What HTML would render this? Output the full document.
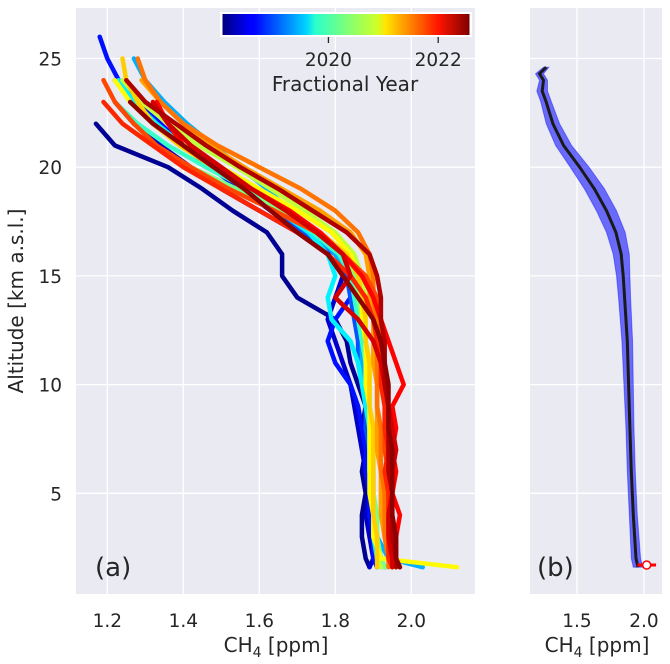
<!DOCTYPE html>
<html><head><meta charset="utf-8"><style>
body{margin:0;background:#fff;}
svg{display:block;font-family:"DejaVu Sans","Liberation Sans",sans-serif;}
</style></head><body>
<svg id="chart" width="670" height="664" viewBox="0 0 670 664">
<defs>
<linearGradient id="jet" x1="0" x2="1" y1="0" y2="0">
<stop offset="0" stop-color="#00007f"/><stop offset="0.11" stop-color="#0000ff"/><stop offset="0.125" stop-color="#0000ff"/>
<stop offset="0.34" stop-color="#00d4ff"/><stop offset="0.375" stop-color="#29ffce"/><stop offset="0.5" stop-color="#7dff7a"/>
<stop offset="0.625" stop-color="#ceff29"/><stop offset="0.66" stop-color="#ffe500"/><stop offset="0.875" stop-color="#ff1400"/>
<stop offset="1" stop-color="#7f0000"/></linearGradient>
<clipPath id="clipA"><rect x="76" y="8" width="399" height="586"/></clipPath>
<clipPath id="clipB"><rect x="530" y="8" width="132" height="586"/></clipPath>
</defs>
<rect x="76" y="8" width="399" height="586" fill="#eaeaf2"/>
<rect x="530" y="8" width="132" height="586" fill="#eaeaf2"/>
<g id="grid"></g>
<g id="seriesA" clip-path="url(#clipA)"></g>
<g id="seriesB" clip-path="url(#clipB)"></g>
<g id="labels" fill="#262626"></g>
<text x="95" y="576" font-size="26" fill="#262626">(a)</text>
<text x="537" y="576" font-size="26" fill="#262626">(b)</text>
<text transform="translate(23,301) rotate(-90)" text-anchor="middle" font-size="20" fill="#262626">Altitude [km a.s.l.]</text>
<text x="276" y="652" text-anchor="middle" font-size="20" fill="#262626">CH<tspan font-size="14" dy="5">4</tspan><tspan dy="-5"> [ppm]</tspan></text>
<text x="597" y="652" text-anchor="middle" font-size="20" fill="#262626">CH<tspan font-size="14" dy="5">4</tspan><tspan dy="-5"> [ppm]</tspan></text>
<g>
<rect x="220" y="12" width="252" height="25" fill="#fff"/>
<rect x="222.5" y="14" width="247" height="21" fill="url(#jet)"/>
<g id="cbticks"></g>
<text x="345" y="91" text-anchor="middle" font-size="20" fill="#262626">Fractional Year</text>
</g>
</svg>
<script>
// ---- data ----
const levels = [1.6,2,3,4,5,6,7,8,9,10,11,12,13,14,15,16,17,18,19,20,21,22,23,24,25,26];
const years = [2018.15,2018.4,2018.7,2019.0,2019.4,2019.7,2020.0,2020.3,2020.6,2020.9,2021.1,2021.3,2021.5,2021.7,2021.85,2022.0,2022.2,2022.35,2022.5];
const p1 = [1.89,1.88,1.87,1.87,1.88,1.87,1.88,1.87,1.88,1.86,1.84,1.83,1.80,1.70,1.66,1.66,1.62,1.53,1.45,1.36,1.22,1.17];
const p2 = [1.89,1.90,1.89,1.88,1.89,1.88,1.87,1.86,1.85,1.84,1.82,1.80,1.78,1.80,1.82,1.78,1.70,1.60,1.50,1.42,1.34,1.27,1.22];
const p3 = [1.91,1.90,1.90,1.89,1.89,1.88,1.88,1.87,1.86,1.84,1.80,1.78,1.80,1.84,1.84,1.80,1.72,1.63,1.55,1.47,1.40,1.34,1.28,1.23,1.20,1.18];
const p4 = [1.93,1.92,1.91,1.90,1.90,1.90,1.89,1.88,1.88,1.87,1.86,1.86,1.85,1.84,1.83,1.78,1.72,1.64,1.56,1.48,1.40,1.33,1.27,1.22];
const p5 = [2.03,1.94,1.91,1.90,1.90,1.89,1.89,1.89,1.88,1.88,1.87,1.87,1.86,1.85,1.84,1.80,1.74,1.68,1.62,1.55,1.48,1.41,1.35,1.30,1.27];
const p6 = [1.92,1.91,1.90,1.90,1.90,1.89,1.89,1.89,1.88,1.87,1.86,1.84,1.79,1.78,1.80,1.78,1.73,1.65,1.56,1.48,1.40,1.33,1.27,1.23];
const p7 = [1.92,1.92,1.91,1.90,1.90,1.90,1.90,1.89,1.89,1.88,1.88,1.87,1.86,1.85,1.84,1.81,1.74,1.66,1.57,1.46,1.36,1.28,1.22];
const p8 = [1.93,1.92,1.91,1.91,1.90,1.90,1.90,1.89,1.89,1.89,1.88,1.88,1.87,1.86,1.85,1.82,1.76,1.66,1.54,1.42,1.32,1.24,1.19];
const p9 = [1.92,1.91,1.91,1.90,1.90,1.90,1.90,1.90,1.89,1.89,1.89,1.88,1.88,1.88,1.87,1.85,1.80,1.72,1.63,1.54,1.44,1.36,1.29,1.24];
const p10 = [2.12,1.92,1.90,1.90,1.89,1.89,1.89,1.89,1.89,1.88,1.88,1.88,1.87,1.87,1.86,1.84,1.79,1.70,1.60,1.50,1.40,1.32,1.26,1.22];
const p11 = [1.91,1.91,1.91,1.90,1.90,1.90,1.90,1.90,1.89,1.89,1.89,1.88,1.88,1.87,1.86,1.83,1.76,1.67,1.58,1.48,1.39,1.32,1.28,1.25,1.24];
const p12 = [1.95,1.94,1.93,1.92,1.92,1.92,1.91,1.91,1.91,1.91,1.90,1.90,1.90,1.89,1.89,1.88,1.84,1.76,1.66,1.56,1.47,1.40,1.34,1.29];
const p13 = [1.94,1.94,1.93,1.93,1.93,1.92,1.92,1.92,1.91,1.91,1.91,1.91,1.91,1.90,1.90,1.89,1.86,1.80,1.71,1.60,1.49,1.40,1.34,1.30,1.28];
const p14 = [1.96,1.95,1.95,1.94,1.94,1.94,1.93,1.93,1.93,1.93,1.92,1.92,1.92,1.91,1.88,1.82,1.75,1.64,1.52,1.42,1.33,1.27,1.22,1.19];
const p15 = [1.95,1.94,1.94,1.94,1.94,1.93,1.94,1.93,1.93,1.92,1.92,1.91,1.90,1.88,1.84,1.78,1.70,1.60,1.50,1.40,1.32,1.24,1.19];
const p16 = [1.97,1.96,1.96,1.97,1.95,1.96,1.95,1.96,1.95,1.98,1.96,1.94,1.92,1.90,1.87,1.82,1.76,1.68,1.58,1.48,1.40,1.36,1.33];
const p17 = [1.95,1.95,1.94,1.94,1.95,1.95,1.96,1.95,1.94,1.93,1.92,1.90,1.86,1.80,1.84,1.82,1.75,1.67,1.58,1.50,1.42,1.36,1.32];
const p18 = [1.96,1.96,1.95,1.95,1.95,1.94,1.94,1.94,1.94,1.93,1.93,1.93,1.92,1.92,1.91,1.89,1.83,1.74,1.65,1.55,1.46,1.38,1.30,1.25];
const p19 = [1.97,1.96,1.96,1.95,1.95,1.95,1.95,1.94,1.94,1.94,1.93,1.92,1.90,1.86,1.82,1.78,1.70,1.63,1.56,1.48,1.40,1.32,1.26];
const profiles = [p1,p2,p3,p4,p5,p6,p7,p8,p9,p10,p11,p12,p13,p14,p15,p16,p17,p18,p19];
const meanAlt = [1.6,2,4,6,8,10,12,14,15,16,17,18,19,20,21,22,23,23.5,24,24.3,24.6];
const meanCH4 = [1.955,1.94,1.92,1.905,1.895,1.885,1.875,1.855,1.845,1.83,1.79,1.72,1.63,1.52,1.40,1.32,1.27,1.24,1.25,1.22,1.27];
const stdCH4 = [0.035,0.035,0.03,0.03,0.03,0.035,0.04,0.045,0.05,0.06,0.07,0.075,0.075,0.07,0.06,0.05,0.04,0.04,0.03,0.03,0.02];
const surfaceAlt = [1.7];
const surfaceCH4 = [2.02];
const surfaceErr = [0.07];
const xTicksA = [1.2,1.4,1.6,1.8,2.0];
const xTicksB = [1.5,2.0];
const yTicks = [5,10,15,20,25];
const cbTicks = [2020,2022];

// ---- scales ----
const NS='http://www.w3.org/2000/svg';
const yS = a => 602 - a*21.74;
const xA = c => 107.3 + (c-1.2)/0.2*76;
const xB = c => 577 + (c-1.5)/0.5*67;
const yrMin=2018.07, yrMax=2022.57;
const cbX = y => 222.5 + (y-yrMin)/(yrMax-yrMin)*247;
function jet(t){
  t=Math.max(0,Math.min(1,t));
  const r=Math.min(4*t-1.5,-4*t+4.5), g=Math.min(4*t-0.5,-4*t+3.5), b=Math.min(4*t+0.5,-4*t+2.5);
  const c=v=>Math.round(255*Math.max(0,Math.min(1,v)));
  return `rgb(${c(r)},${c(g)},${c(b)})`;
}
function mk(tag,attrs,parent){const e=document.createElementNS(NS,tag);for(const k in attrs)e.setAttribute(k,attrs[k]);parent.appendChild(e);return e;}
const grid=document.getElementById('grid'), labels=document.getElementById('labels');
xTicksA.forEach(v=>{
  const l=mk('line',{x1:xA(v),x2:xA(v),y1:8,y2:594,stroke:'#fff','stroke-width':1.3},grid);
  
  
  const t=mk('text',{x:xA(v),y:627,'text-anchor':'middle','font-size':18.5},labels);
  t.textContent=v.toFixed(1);
  
  
});
xTicksB.forEach(v=>{
  const l=mk('line',{x1:xB(v),x2:xB(v),y1:8,y2:594,stroke:'#fff','stroke-width':1.3},grid);
  
  
  const t=mk('text',{x:xB(v),y:627,'text-anchor':'middle','font-size':18.5},labels);
  t.textContent=v.toFixed(1);
  
  
});
yTicks.forEach(v=>{
  [[76,475],[530,662]].forEach(r=>{
    const l=mk('line',{x1:r[0],x2:r[1],y1:yS(v),y2:yS(v),stroke:'#fff','stroke-width':1.3},grid);
    
    
  });
  const t=mk('text',{x:62,y:yS(v)+7,'text-anchor':'end','font-size':18.5},labels);
  t.textContent=v;
  
  
});
const sA=document.getElementById('seriesA');
profiles.forEach((p,i)=>{
  const d=p.map((c,j)=>(j?'L':'M')+xA(c).toFixed(1)+','+yS(levels[j]).toFixed(1)).join('');
  const path=mk('path',{d:d,fill:'none',stroke:jet((years[i]-yrMin)/(yrMax-yrMin)),'stroke-width':4.5,'stroke-linejoin':'round','stroke-linecap':'round'},sA);
  
  
});
const sB=document.getElementById('seriesB');
let band='';
meanAlt.forEach((a,j)=>band+=(j?'L':'M')+xB(meanCH4[j]+stdCH4[j]).toFixed(1)+','+yS(a).toFixed(1));
for(let j=meanAlt.length-1;j>=0;j--) band+='L'+xB(meanCH4[j]-stdCH4[j]).toFixed(1)+','+yS(meanAlt[j]).toFixed(1);
const bandEl=mk('path',{d:band+'Z',fill:'#0000ff','fill-opacity':0.55,stroke:'#0000ff','stroke-opacity':0.4},sB);


const mean=mk('path',{d:meanAlt.map((a,j)=>(j?'L':'M')+xB(meanCH4[j]).toFixed(1)+','+yS(a).toFixed(1)).join(''),fill:'none',stroke:'#1a1a1a','stroke-width':3},sB);


surfaceAlt.forEach((a,j)=>{
  const e=mk('line',{x1:xB(surfaceCH4[j]-surfaceErr[j]),x2:xB(surfaceCH4[j]+surfaceErr[j]),y1:yS(a),y2:yS(a),stroke:'#ff0000','stroke-width':3},sB);
  
  
  const c=mk('circle',{cx:xB(surfaceCH4[j]),cy:yS(a),r:4,fill:'#fff',stroke:'#ff0000','stroke-width':1.5},sB);
  
  
});
const cbt=document.getElementById('cbticks');
cbTicks.forEach(y=>{
  const l=mk('line',{x1:cbX(y),x2:cbX(y),y1:37,y2:43,stroke:'#262626','stroke-width':1.3},cbt);
  
  
  const t=mk('text',{x:cbX(y),y:66,'text-anchor':'middle','font-size':18.5,fill:'#262626'},cbt);
  t.textContent=y;
  
  
});
</script>
</body></html>
